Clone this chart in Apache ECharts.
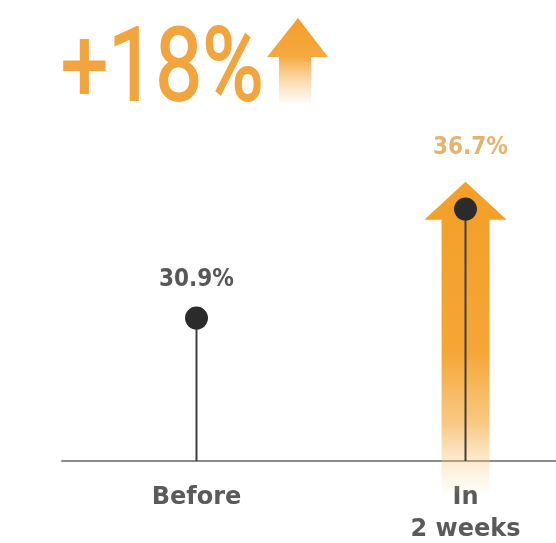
<!DOCTYPE html>
<html><head><meta charset="utf-8">
<script src="https://cdn.jsdelivr.net/npm/echarts@6/dist/echarts.min.js"></script>
<style>html,body{margin:0;padding:0;background:#fff}#c{width:556px;height:543px}</style>
</head><body><div id="c"></div>
<script>
const categories = ['Before', 'In\n2 weeks'];
const values = [30.9, 36.7];
const valueLabels = ['30.9%', '36.7%'];
const headline = '+18%';
// arrow behind the second point: [tip, head base, tail] in axis units
const arrowTip = [38.15];
const arrowHeadBase = [36.13];
const arrowTail = [21.6];

const chart = echarts.init(document.getElementById('c'));

chart.setOption({
  animation: false,
  grid: {left: 62, right: -44, top: 53, bottom: 82, outerBoundsMode: 'none', containLabel: false},
  xAxis: {
    type: 'category', data: categories, boundaryGap: true,
    axisLine: {lineStyle: {color: '#8a8a8a', width: 2}},
    axisTick: {show: false},
    axisLabel: {color: '#5a5a5a', fontSize: 24, fontWeight: 'bold', fontFamily: 'DejaVu Sans',
      margin: 21, lineHeight: 32}
  },
  yAxis: {type: 'value', min: 23.3, max: 45, show: false, splitLine: {show: false}},
  graphic: [
    {type: 'text', left: 60, top: 23, style: {text: headline, fill: '#f2a53e',
      stroke: '#f2a53e', lineWidth: 1.8, font: '400 102px Roboto'}, scaleX: 0.82},
    {type: 'polygon', shape: {points: [[298, 18], [328, 57], [311, 57], [311, 103], [279, 103], [279, 57], [267, 57]]},
      style: {fill: new echarts.graphic.LinearGradient(0, 0, 0, 1, [
        {offset: 0, color: '#f39f2a'}, {offset: 0.45, color: '#f5a83e'},
        {offset: 1, color: 'rgba(250,205,140,0.1)'}])}}
  ],
  series: [
    {
      type: 'custom', z: 1, clip: false,
      data: [[1, arrowTip[0], arrowHeadBase[0], arrowTail[0]]],
      renderItem: function (params, api) {
        const x = api.coord([api.value(0), 0])[0];
        const band = api.size([1, 0])[0];
        const tipY = api.coord([0, api.value(1)])[1];
        const baseY = api.coord([0, api.value(2)])[1];
        const tailY = api.coord([0, api.value(3)])[1];
        const hw = band * 0.153, sw = band * 0.089;
        return {
          type: 'polygon',
          shape: {points: [[x, tipY], [x + hw, baseY], [x + sw, baseY], [x + sw, tailY],
            [x - sw, tailY], [x - sw, baseY], [x - hw, baseY]]},
          style: {fill: new echarts.graphic.LinearGradient(0, 0, 0, 1, [
            {offset: 0, color: '#f39f28'}, {offset: 0.55, color: '#f5a636'},
            {offset: 0.78, color: 'rgba(247,178,80,0.7)'}, {offset: 1, color: 'rgba(250,210,150,0.05)'}])}
        };
      }
    },
    {
      type: 'bar', z: 2, barWidth: 2, data: values,
      itemStyle: {color: '#3c3c3c'}
    },
    {
      type: 'scatter', z: 3, symbolSize: 23,
      itemStyle: {color: '#2b2b2b', opacity: 1},
      data: [
        {value: values[0], label: {show: true, position: 'top', distance: 15, formatter: valueLabels[0], color: '#575757'}},
        {value: values[1], label: {show: true, position: 'top', distance: 38, offset: [5, 0], formatter: valueLabels[1], color: '#e2b46e'}}
      ],
      label: {fontSize: 24, fontWeight: 'bold', fontFamily: 'DejaVu Sans Condensed'}
    }
  ]
});
</script></body></html>
